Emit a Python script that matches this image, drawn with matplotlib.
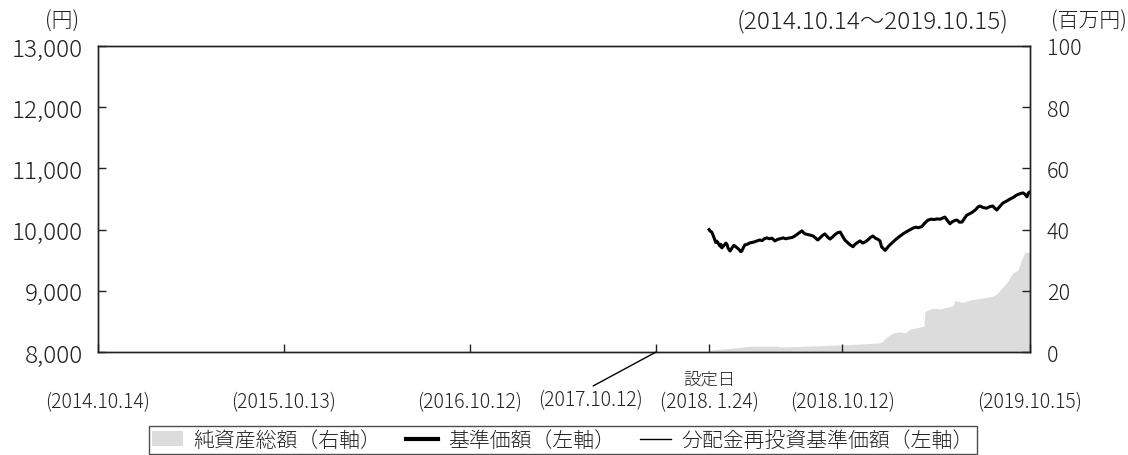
import pandas as pd
import matplotlib
matplotlib.use('Agg')
import matplotlib.pyplot as plt
from matplotlib.patches import Patch
from matplotlib.lines import Line2D

plt.rcParams['font.family'] = ['Noto Sans CJK JP', 'DejaVu Sans']
plt.rcParams['font.weight'] = 'light'

# 基準価額 (円) - 目視で読み取った値
nav_dates = ['2018-01-24', '2018-01-26', '2018-01-29', '2018-01-31', '2018-02-02', '2018-02-06',
             '2018-02-08', '2018-02-10', '2018-02-14', '2018-02-16', '2018-02-18', '2018-02-22',
             '2018-02-26', '2018-02-28', '2018-03-02', '2018-03-06', '2018-03-09', '2018-03-13',
             '2018-03-16', '2018-03-20', '2018-03-23', '2018-03-27', '2018-03-29', '2018-04-02',
             '2018-04-04', '2018-04-09', '2018-04-13', '2018-04-18', '2018-04-23', '2018-04-28',
             '2018-05-03', '2018-05-08', '2018-05-12', '2018-05-17', '2018-05-22', '2018-05-27',
             '2018-06-02', '2018-06-07', '2018-06-12', '2018-06-18', '2018-06-23', '2018-06-28',
             '2018-07-05', '2018-07-10', '2018-07-15', '2018-07-20', '2018-07-25', '2018-07-28',
             '2018-07-31', '2018-08-05', '2018-08-10', '2018-08-16', '2018-08-21', '2018-08-25',
             '2018-08-30', '2018-09-04', '2018-09-08', '2018-09-13', '2018-09-18', '2018-09-23',
             '2018-09-28', '2018-10-03', '2018-10-08', '2018-10-12', '2018-10-17', '2018-10-21',
             '2018-10-26', '2018-11-02', '2018-11-06', '2018-11-11', '2018-11-16', '2018-11-21',
             '2018-11-26', '2018-12-01', '2018-12-06', '2018-12-11', '2018-12-16', '2018-12-21',
             '2018-12-25', '2018-12-28', '2019-01-04', '2019-01-08', '2019-01-12', '2019-01-19',
             '2019-01-25', '2019-01-31', '2019-02-08', '2019-02-14', '2019-02-20', '2019-02-28',
             '2019-03-05', '2019-03-10', '2019-03-17', '2019-03-22', '2019-03-29', '2019-04-04',
             '2019-04-10', '2019-04-16', '2019-04-22', '2019-05-01', '2019-05-06', '2019-05-11',
             '2019-05-16', '2019-05-21', '2019-05-25', '2019-05-30', '2019-06-04', '2019-06-09',
             '2019-06-13', '2019-06-19', '2019-06-25', '2019-07-01', '2019-07-05', '2019-07-09',
             '2019-07-15', '2019-07-22', '2019-07-28', '2019-08-03', '2019-08-07', '2019-08-11',
             '2019-08-17', '2019-08-23', '2019-08-30', '2019-09-06', '2019-09-12', '2019-09-19',
             '2019-09-25', '2019-10-01', '2019-10-05', '2019-10-09', '2019-10-12', '2019-10-15']
nav = [10000, 9975, 9960, 9925, 9880, 9790,
       9810, 9790, 9730, 9760, 9700, 9740,
       9780, 9760, 9700, 9650, 9690, 9740,
       9730, 9700, 9680, 9640, 9650, 9720,
       9750, 9760, 9780, 9790, 9800, 9815,
       9830, 9820, 9850, 9865, 9850, 9860,
       9815, 9840, 9850, 9865, 9850, 9860,
       9870, 9890, 9920, 9950, 9980, 9950,
       9930, 9920, 9910, 9895, 9860, 9830,
       9870, 9910, 9930, 9880, 9845, 9880,
       9920, 9950, 9960, 9900, 9830, 9800,
       9760, 9720, 9760, 9790, 9815, 9780,
       9800, 9830, 9870, 9895, 9860, 9840,
       9815, 9720, 9660, 9700, 9740, 9795,
       9840, 9880, 9930, 9960, 9990, 10025,
       10040, 10030, 10050, 10100, 10155, 10170,
       10165, 10175, 10170, 10205, 10150, 10095,
       10130, 10150, 10155, 10120, 10125, 10190,
       10235, 10260, 10290, 10330, 10370, 10385,
       10360, 10350, 10375, 10385, 10350, 10320,
       10380, 10435, 10465, 10500, 10525, 10565,
       10585, 10600, 10580, 10535, 10600, 10615]
# 分配金再投資基準価額 (分配なしのため基準価額と同じ)
nav_reinvest = list(nav)

# 純資産総額 (百万円)
aum_dates = ['2018-01-24', '2018-02-07', '2018-03-06', '2018-04-14', '2018-06-08', '2018-06-12',
             '2018-10-21', '2018-11-16', '2018-12-25', '2018-12-31', '2019-01-04', '2019-01-19',
             '2019-02-02', '2019-02-12', '2019-02-22', '2019-03-17', '2019-03-21', '2019-03-23',
             '2019-04-06', '2019-04-22', '2019-05-17', '2019-05-21', '2019-06-06', '2019-06-19',
             '2019-08-03', '2019-08-11', '2019-08-31', '2019-09-12', '2019-09-21', '2019-09-29',
             '2019-10-05', '2019-10-15']
aum = [0.5, 0.8, 1.2, 1.9, 1.9, 1.6,
       2.4, 2.6, 3.0, 3.6, 4.5, 6.2,
       6.6, 6.2, 7.5, 8.3, 8.5, 13.2,
       14.3, 14.1, 15.1, 16.8, 16.2, 17.0,
       18.2, 19.0, 22.8, 26.0, 26.6, 30.4,
       32.6, 32.5]

tick_dates = ['2014-10-14', '2015-10-13', '2016-10-12', '2017-10-12', '2018-01-24', '2018-10-12', '2019-10-15']
tick_labels = ['(2014.10.14)', '(2015.10.13)', '(2016.10.12)', '', '(2018. 1.24)', '(2018.10.12)', '(2019.10.15)']
left_ticks = [8000, 9000, 10000, 11000, 12000, 13000]
right_ticks = [0, 20, 40, 60, 80, 100]

nav_x = pd.to_datetime(nav_dates)
aum_x = pd.to_datetime(aum_dates)
tx = pd.to_datetime(tick_dates)

fig = plt.figure(figsize=(11.28, 4.56), dpi=100)
ax = fig.add_axes([98 / 1128, 1 - 353 / 456, 932 / 1128, 306 / 456])
ax2 = ax.twinx()

ax2.fill_between(aum_x, aum, 0, color='#dcdcdc', lw=0)
ax2.set_ylim(0, 100)
ax2.set_yticks(right_ticks)

ax.plot(nav_x, nav_reinvest, color='black', lw=1)
ax.plot(nav_x, nav, color='black', lw=2.2)
ax.set_ylim(8000, 13000)
ax.set_yticks(left_ticks)
ax.set_yticklabels(['{:,}'.format(v) for v in left_ticks])
ax.set_xlim(tx[0], tx[-1])
ax.set_xticks(tx)
ax.set_xticklabels(tick_labels)

ax.set_zorder(ax2.get_zorder() + 1)
ax.patch.set_visible(False)

ax.tick_params(axis='y', direction='in', length=6, width=1, labelsize=17.5, pad=11, colors='#222222')
ax.tick_params(axis='x', direction='in', length=6, width=1, labelsize=14, pad=28, colors='#222222')
ax2.tick_params(axis='y', direction='in', length=6, width=1, labelsize=15.5, pad=12, colors='#222222')
for a in (ax, ax2):
    for s in a.spines.values():
        s.set_linewidth(1)
        s.set_color('#222222')

# 2017.10.12 のラベルは引き出し線付きで左にずらす
ax.annotate('(2017.10.12)', xy=(tx[3], 8000), xytext=(-47.5, -34), textcoords='offset points',
            ha='center', va='center', fontsize=14, color='#222222',
            arrowprops=dict(arrowstyle='-', color='black', lw=1, shrinkA=0, shrinkB=0, relpos=(0.48, 1.0)))
ax.annotate('設定日', xy=(tx[4], 8000), xytext=(0, -19), textcoords='offset points',
            ha='center', va='center', fontsize=12.5, color='#222222')

fig.text(62 / 1128, 1 - 22 / 456, '(円)', ha='center', va='center', fontsize=15, color='#222222')
fig.text(873 / 1128, 1 - 22 / 456, '(2014.10.14～2019.10.15)', ha='center', va='center', fontsize=17.5, color='#222222')
fig.text(1127 / 1128, 1 - 22 / 456, '(百万円)', ha='right', va='center', fontsize=15, color='#222222')

handles = [Patch(facecolor='#dcdcdc', edgecolor='none'),
           Line2D([], [], color='black', lw=3),
           Line2D([], [], color='black', lw=1)]
labels = ['純資産総額（右軸）', '基準価額（左軸）', '分配金再投資基準価額（左軸）']
leg = fig.legend(handles, labels, loc='lower center', bbox_to_anchor=(563 / 1128, 0.0), ncol=3,
                 frameon=True, fancybox=False, edgecolor='#222222', fontsize=15,
                 handlelength=1.5, handletextpad=0.5, columnspacing=1.2, borderpad=0.15, borderaxespad=0.05)
leg.get_frame().set_linewidth(1)
for t in leg.get_texts():
    t.set_color('#222222')

fig.savefig('out.png', dpi=100)
